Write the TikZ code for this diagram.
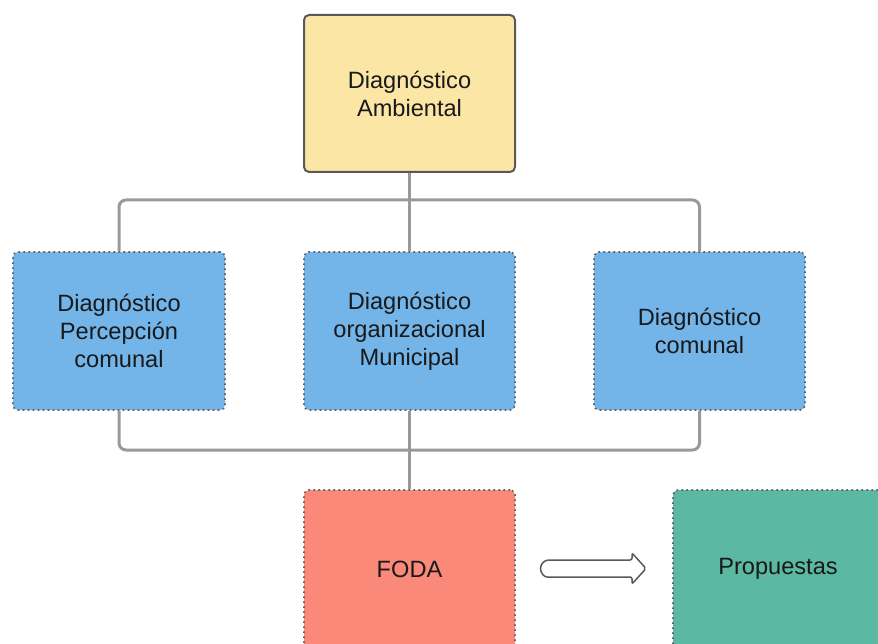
\documentclass[tikz,border=0pt]{standalone}
\usepackage{fontspec}
\setmainfont{Liberation Sans}
\begin{document}
\begin{tikzpicture}[x=1pt,y=-1pt,
  box/.style={rectangle, rounded corners=5pt, align=center, font=\fontsize{23.6}{28}\selectfont, text=black!90, inner sep=0pt},
  solidbox/.style={box, draw=black!65, line width=2pt},
  dotbox/.style={box, draw=black!62, line width=1.8pt, dash pattern=on 1.6pt off 3.4pt},
  conn/.style={draw=black!40, line width=3pt, rounded corners=7pt}]
\definecolor{cyellow}{HTML}{FCE6A6}
\definecolor{cblue}{HTML}{73B4E9}
\definecolor{cred}{HTML}{FA8979}
\definecolor{cteal}{HTML}{5AB8A3}
\useasboundingbox (0,0) rectangle (878,644);
\clip (0,0) rectangle (878,644);
\node[solidbox, fill=cyellow, minimum width=211pt, minimum height=157pt] (top) at (409.5,93.5) {Diagnóstico\\Ambiental};
\node[dotbox, fill=cblue, minimum width=212pt, minimum height=158pt] (b1) at (119,331) {Diagnóstico\\Percepción\\comunal};
\node[dotbox, fill=cblue, minimum width=211pt, minimum height=158pt] (b2) at (409.5,331) {Diagnóstico\\organizacional\\Municipal};
\node[dotbox, fill=cblue, minimum width=211pt, minimum height=158pt] (b3) at (699.5,331) {Diagnóstico\\comunal};
\node[dotbox, fill=cred, minimum width=211pt, minimum height=158pt, text depth=0pt] (foda) at (409.5,569) {FODA};
\node[dotbox, fill=cteal, minimum width=210pt, minimum height=158pt] (prop) at (778,569) {Propuestas};
\coordinate (jt) at (409.5,200);
\coordinate (jb) at (409.5,450);
\draw[conn] (b1.north) |- (jt);
\draw[conn] (b3.north) |- (jt);
\draw[conn] (top.south) -- (b2.north);
\draw[conn] (b1.south) |- (jb);
\draw[conn] (b3.south) |- (jb);
\draw[conn] (b2.south) -- (foda.north);
\draw[draw=black!65, fill=white, line width=1.5pt, rounded corners=2pt]
  (549,560) -- (632,560) -- (632,553) -- (646,568.5) -- (632,584) -- (632,577) -- (549,577)
  [sharp corners] arc[start angle=270, end angle=90, radius=8.5pt] -- cycle;
\end{tikzpicture}
\end{document}
